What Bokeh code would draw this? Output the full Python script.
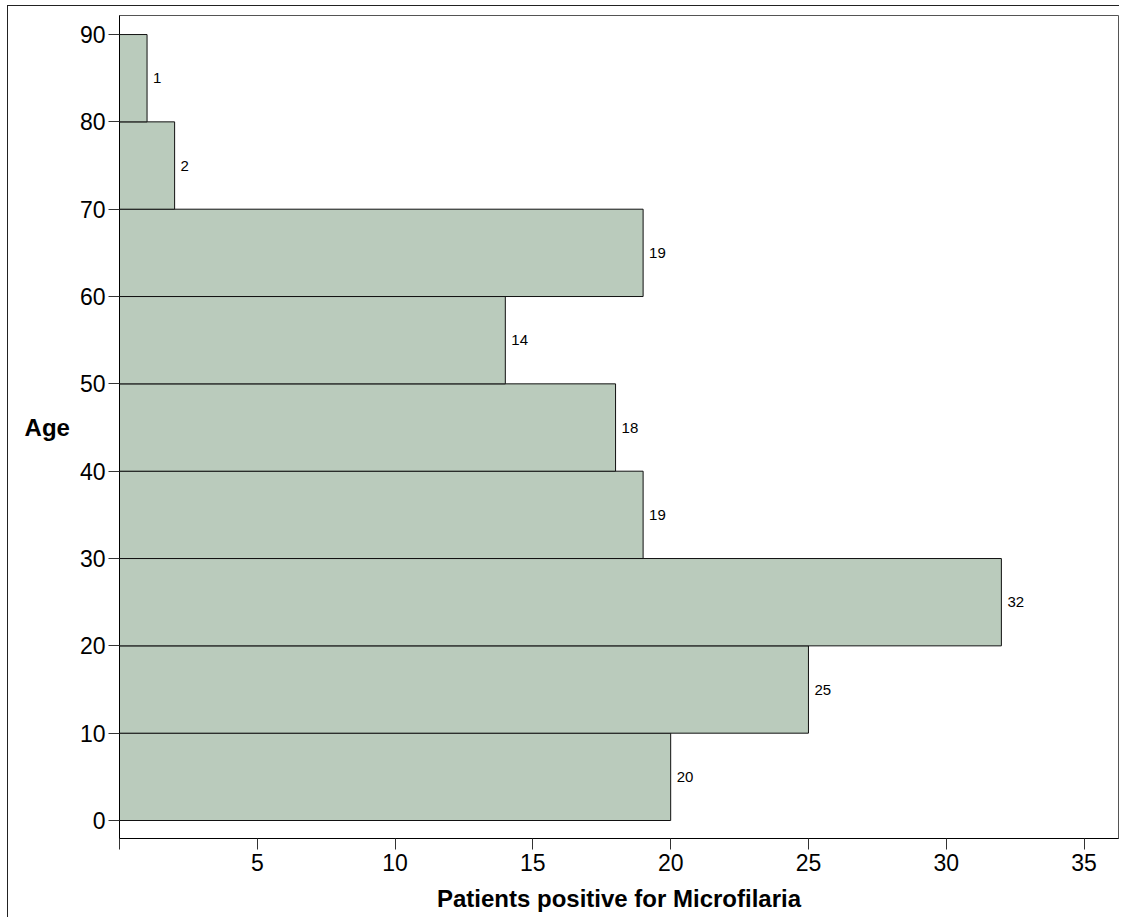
from bokeh.plotting import figure
from bokeh.models import Range1d, FixedTicker, ColumnDataSource
from bokeh.core.properties import value
from bokeh.embed import file_html
from bokeh.resources import INLINE

# Data
age_edges = [0, 10, 20, 30, 40, 50, 60, 70, 80, 90]
counts = [20, 25, 32, 19, 18, 14, 19, 2, 1]
x_ticks = [0, 5, 10, 15, 20, 25, 30, 35]
y_ticks = [0, 10, 20, 30, 40, 50, 60, 70, 80, 90]
x_title = "Patients positive for Microfilaria"
y_title = "Age"

FONT = "Liberation Sans"

src = ColumnDataSource(dict(
    left=[0] * len(counts),
    right=counts,
    bottom=age_edges[:-1],
    top=age_edges[1:],
    mid=[(a + b) / 2 for a, b in zip(age_edges[:-1], age_edges[1:])],
    label=[str(c) for c in counts],
))

p = figure(width=1112, height=912, output_backend="svg", toolbar_location=None,
           x_range=Range1d(0, 36.25), y_range=Range1d(-2.06, 92.18),
           min_border_left=111, min_border_right=2, min_border_top=9, min_border_bottom=80)
p.styles = {"border-left": "1px solid #222", "border-top": "1px solid #222",
            "margin-left": "7px", "margin-top": "5px"}

p.quad(left="left", right="right", bottom="bottom", top="top", source=src,
       fill_color="#BACBBC", line_color="#111111", line_width=1)
p.text(x="right", y="mid", text="label", source=src, x_offset=6,
       text_baseline="middle", text_align="left", text_font_size="15px",
       text_font=value(FONT), text_color="black")

p.xgrid.visible = False
p.ygrid.visible = False
p.outline_line_color = "#555555"
p.outline_line_width = 1
p.background_fill_color = "white"
p.border_fill_color = "white"

for ax in (p.xaxis[0], p.yaxis[0]):
    ax.axis_line_color = "black"
    ax.axis_line_width = 1
    ax.major_tick_line_color = "#333333"
    ax.major_tick_in = 0
    ax.major_tick_out = 11
    ax.minor_tick_line_color = None
    ax.major_label_text_font = FONT
    ax.major_label_text_font_size = "23px"
    ax.major_label_text_color = "black"
    ax.axis_label_text_font = FONT
    ax.axis_label_text_font_size = "24px"
    ax.axis_label_text_font_style = "bold"
    ax.axis_label_text_color = "black"

p.xaxis[0].ticker = FixedTicker(ticks=x_ticks)
p.xaxis[0].major_label_overrides = {0: ""}
p.xaxis[0].major_label_standoff = 4
p.xaxis[0].axis_label = x_title
p.xaxis[0].axis_label_standoff = 11
p.yaxis[0].ticker = FixedTicker(ticks=y_ticks)
p.yaxis[0].major_label_standoff = 3
p.yaxis[0].axis_label = y_title
p.yaxis[0].axis_label_orientation = "horizontal"
p.yaxis[0].axis_label_standoff = 7

open("out.html", "w").write(file_html(p, INLINE))
